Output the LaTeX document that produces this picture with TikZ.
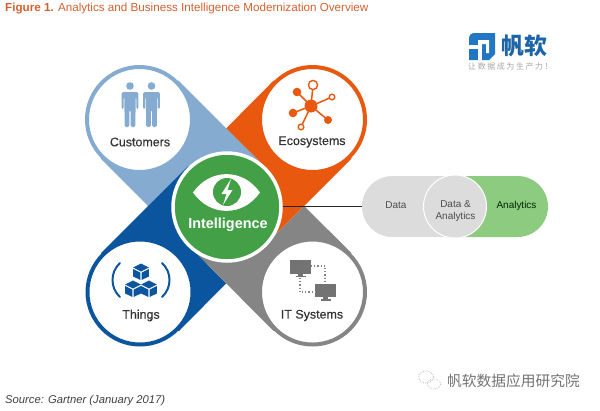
\documentclass[tikz,border=0pt]{standalone}
\usepackage{fontspec}
\setmainfont{Liberation Sans}
\newfontfamily\labelfont[FakeBold=0.35]{Liberation Sans}
\newfontfamily\cjk{Noto Sans CJK SC}
\definecolor{custblue}{HTML}{85ABD0}
\definecolor{thingblue}{HTML}{0B559F}
\definecolor{ecoorange}{HTML}{E8590F}
\definecolor{itgray}{HTML}{858585}
\definecolor{intgreen}{HTML}{43A047}
\definecolor{pillgray}{HTML}{DCDCDC}
\definecolor{pillgreen}{HTML}{8CCB80}
\definecolor{titleorange}{HTML}{D4602F}
\definecolor{logoblue}{HTML}{2277C4}
\tikzset{
    topiccircle/.style={circle,fill=white,line width=4pt,minimum size=105bp,inner sep=0pt},
    topiclabel/.style={font=\labelfont\fontsize{12.5}{14}\selectfont,text=black!80},
    pilllabel/.style={font=\fontsize{10}{12}\selectfont,align=center,text=black!70},
    dotlink/.style={itgray,line width=1.2pt,dotted},
    person/.style={fill=custblue,draw=none},
}
\begin{document}
\begin{tikzpicture}[x=1bp,y=-1bp]
    \useasboundingbox (0,0) rectangle (600,410);

    % the four ribbons
    \coordinate (mid) at (227,207);
    \fill[ecoorange] (273.6,80.6) -- (226,128.6) -- (266,168) -- (mid) -- (265,245) -- (304,206) -- (351.5,158.5) -- cycle;
    \fill[itgray] (mid) -- (265,245) -- (304,206) -- (351.5,253) -- (273.6,331) -- (189,246) -- cycle;
    \fill[custblue] (178.4,80.6) -- (266,168) -- (mid) -- (188,166) -- (148,206) -- (100.6,158.4) -- cycle;
    \fill[thingblue] (188,166) -- (mid) -- (189,246) -- (226,283.5) -- (179,331) -- (101,253) -- cycle;

    % topics
    \node[topiccircle,draw=custblue] (customers) at (139.5,119.5) {};
    \node[topiccircle,draw=ecoorange] (ecosystems) at (312.5,119.5) {};
    \node[topiccircle,draw=thingblue] (things) at (140,292) {};
    \node[topiccircle,draw=itgray] (itsystems) at (312.5,292) {};
    \node[circle,fill=intgreen,draw=white,line width=3.5pt,minimum size=108bp,inner sep=0pt] (intelligence) at (mid) {};

    \node[topiclabel] (customerstext) at (140,142) {Customers};
    \node[topiclabel] (ecosystemstext) at (312,142) {Ecosystems};
    \node[topiclabel] (thingstext) at (141,315.5) {Things};
    \node[topiclabel] (itsystemstext) at (312,315.5) {IT Systems};
    \node[font=\bfseries\fontsize{14.5}{16}\selectfont,text=white] (intelligencetext) at (228,225) {Intelligence};

    % eye
    \fill[white] (193,192.5) .. controls (210,168) and (243,168) .. (260,192.5) .. controls (243,217) and (210,217) .. (193,192.5) -- cycle;
    \fill[intgreen] (227,192) circle (14);
    \fill[white] (231,179) -- (221.5,194) -- (226.5,194) -- (223,205) -- (232.5,190) -- (227.5,190) -- cycle;

    % customers icon
    \foreach \px in {130,151.5} {
        \fill[person] (\px,86) circle (3.8);
        \fill[person,rounded corners=1.5] (\px-8.3,92) -- (\px+8.3,92) -- (\px+8.3,109) -- (\px+6.3,109) -- (\px+6.3,97) -- (\px+5.6,97) -- (\px+5.4,127) -- (\px+0.7,127) -- (\px+0.7,110) -- (\px-0.7,110) -- (\px-0.7,127) -- (\px-5.4,127) -- (\px-5.6,97) -- (\px-6.3,97) -- (\px-6.3,109) -- (\px-8.3,109) -- cycle;
    }

    % ecosystems icon
    \foreach \ex/\ey in {313/85,297/92,332/97,293/113,328/120,301/127}
        \draw[ecoorange,line width=1.5pt] (311,106) -- (\ex,\ey);
    \fill[ecoorange] (311,106) circle (6.5);
    \fill[ecoorange] (297,92) circle (4.3);
    \fill[ecoorange] (293,113) circle (4.3);
    \fill[ecoorange] (328,120) circle (4);
    \draw[ecoorange,fill=white,line width=1.4pt] (313,85) circle (4.6);
    \draw[ecoorange,fill=white,line width=1.4pt] (332,97) circle (2.8);
    \draw[ecoorange,fill=white,line width=1.4pt] (301,127) circle (2.8);

    % things icon
    \foreach \cx/\cy in {141/271,133/288,149/288} {
        \fill[thingblue] (\cx,\cy-7.5) -- (\cx+7.8,\cy-3.5) -- (\cx,\cy+0.5) -- (\cx-7.8,\cy-3.5) -- cycle;
        \fill[thingblue] (\cx-7.8,\cy-2) -- (\cx-0.6,\cy+1.7) -- (\cx-0.6,\cy+9) -- (\cx-7.8,\cy+5.5) -- cycle;
        \fill[thingblue] (\cx+7.8,\cy-2) -- (\cx+0.6,\cy+1.7) -- (\cx+0.6,\cy+9) -- (\cx+7.8,\cy+5.5) -- cycle;
    }
    \draw[thingblue,line width=2pt,line cap=round] (120,263) .. controls (110,272) and (110,288) .. (120,297);
    \draw[thingblue,line width=2pt,line cap=round] (162,263) .. controls (172,272) and (172,288) .. (162,297);

    % it systems icon
    \foreach \mx/\my in {290/260,315/283.5} {
        \fill[black!55] (\mx,\my) rectangle (\mx+21,\my+13.5);
        \fill[black!55] (\mx+8,\my+13.5) rectangle (\mx+13,\my+15.5);
        \fill[black!55] (\mx+5.5,\my+15.5) rectangle (\mx+15.5,\my+17);
    }
    \draw[dotlink] (311,266) -- (325,266) -- (325,283);
    \draw[dotlink] (300,278) -- (300,292) -- (315,292);

    % data and analytics pill
    \fill[pillgreen] (455,176) -- (517.5,176) arc (-90:90:30.5) -- (455,237) -- cycle;
    \fill[pillgray] (455,176) -- (392.5,176) arc (-90:-270:30.5) -- (455,237) -- cycle;
    \node[circle,fill=pillgray,draw=white,line width=1pt,minimum size=63bp,inner sep=0pt] (both) at (455,206.5) {};
    \coordinate (pillend) at (362,206);
    \node[pilllabel] (datatext) at (396,205.5) {Data};
    \node[pilllabel] (bothtext) at (455.5,211) {Data \&\\Analytics};
    \node[pilllabel,text=black!85!green] (analyticstext) at (516.5,205.5) {Analytics};
    \draw[black!85,line width=1pt] (intelligence.east |- pillend) -- (pillend);

    % logo
    \fill[logoblue] (475,33) -- (495,33) -- (495,54) -- (489,60) -- (469,60) -- (469,39) .. controls (469,35) and (471,33) .. (475,33) -- cycle;
    \fill[white] (478,40) rectangle (482,60);
    \fill[white] (469,45) rectangle (478,49);
    \fill[white] (482,40) -- (489,40) -- (489,53) -- (486,53) -- (486,44) -- (482,44) -- cycle;
    \node[font=\cjk\bfseries\fontsize{23}{23}\selectfont,text=logoblue!85!black,anchor=west,inner sep=0pt] (logotext) at (501,45.5) {帆软};
    \node[font=\cjk\addfontfeature{LetterSpace=20}\fontsize{8}{9}\selectfont,text=black!35,anchor=west,inner sep=0pt] (slogan) at (468,66) {让数据成为生产力！};

    % captions
    \node[font=\fontsize{11.7}{13}\selectfont,text=titleorange,anchor=west,inner sep=0pt] (title) at (5,9) {\textbf{Figure 1.} Analytics and Business Intelligence Modernization Overview};
    \node[font=\itshape\fontsize{11.3}{13}\selectfont,text=black!75,anchor=west,inner sep=0pt] (source) at (5,400.5) {Source: Gartner (January 2017)};
    \node[font=\cjk\fontsize{14.8}{16}\selectfont,text=black!55,anchor=west,inner sep=0pt] (watermark) at (447,380.5) {帆软数据应用研究院};

    % faint chat bubbles of the watermark
    \draw[black!25,densely dotted,line width=0.8pt] (426,377) ellipse (7.5 and 6);
    \draw[black!25,densely dotted,line width=0.8pt] (434,384) ellipse (6.5 and 5);
\end{tikzpicture}
\end{document}
